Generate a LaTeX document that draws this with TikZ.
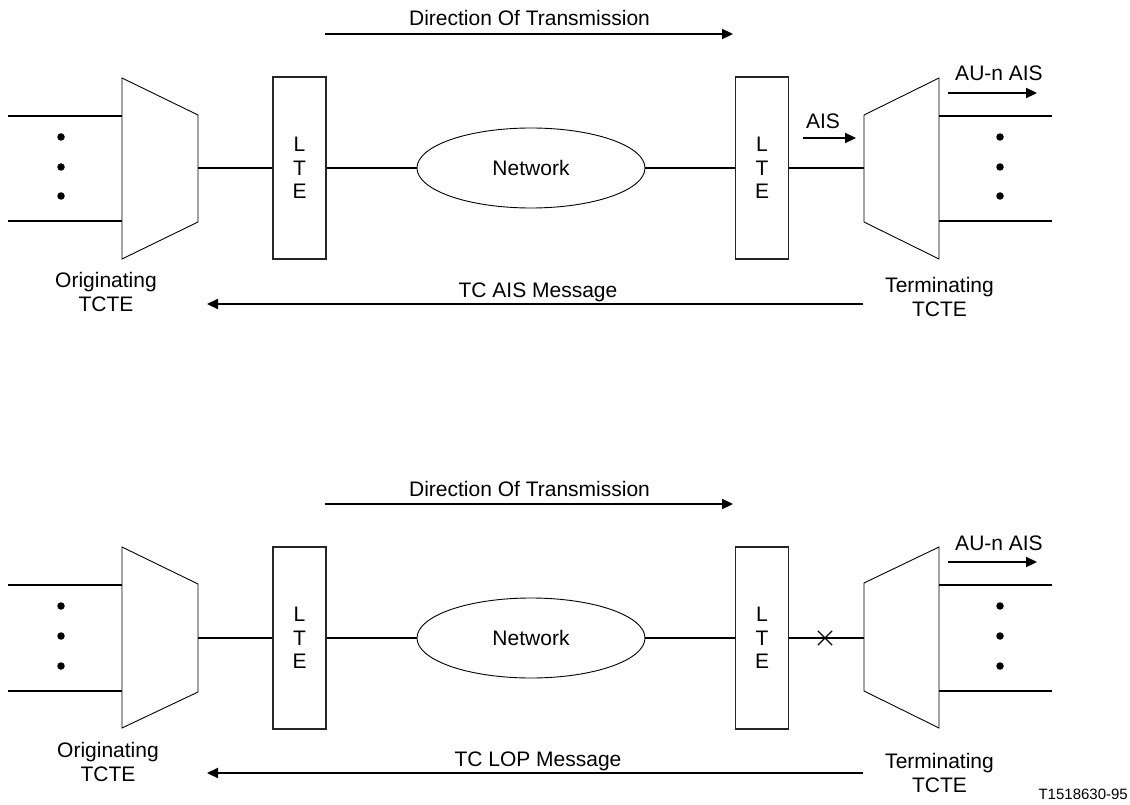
\documentclass[tikz,border=0pt]{standalone}
\usepackage{fontspec}
\setmainfont{Liberation Sans}
\usetikzlibrary{arrows.meta,shapes.geometric,shapes.misc}
\newcommand\dfont{\fontsize{21}{24}\selectfont}
\begin{document}
\begin{tikzpicture}[x=1pt,y=-1pt,
  txt/.style={font=\dfont, inner sep=0pt},
  mtxt/.style={font=\dfont, inner sep=0pt, align=center, anchor=north},
  ltebox/.style={draw=black!85, line width=1.1pt, minimum width=53pt, minimum height=182pt, inner sep=0pt, align=center, font=\fontsize{21}{23.5}\selectfont},
  net/.style={ellipse, draw, line width=0.9pt, minimum width=228pt, minimum height=80pt, inner sep=0pt, font=\dfont},
  wire/.style={line width=1.8pt},
  outline/.style={line width=0.9pt, line join=miter},
  arr/.style={line width=2.2pt, -{Triangle[length=11pt,width=10pt]}},
  dot/.style={circle, fill=black, inner sep=0pt, minimum size=7.5pt},
  xmark/.style={cross out, draw, line width=1.2pt, minimum size=13pt, inner sep=0pt}
]
\useasboundingbox (0,0) rectangle (1130,805);

% ================= TOP DIAGRAM =================
\begin{scope}
  \node[txt, anchor=base] (dir1) at (529.5,26) {Direction Of Transmission};
  \coordinate (d1s) at (325,34);
  \coordinate (d1e) at (733,34);
  \draw[arr] (d1s) -- (d1e);

  % originating TCTE
  \draw[outline] (122,78) -- (198,115) -- (198,222) -- (122,259) -- cycle;
  \coordinate (o1out) at (198,168);
  \coordinate (o1a) at (122,116);
  \coordinate (o1b) at (122,221);
  \coordinate (l1a) at (8,116);
  \coordinate (l1b) at (8,221);
  \draw[wire] (l1a) -- (o1a);
  \draw[wire] (l1b) -- (o1b);
  \node[dot] (od1a) at (61,137) {};
  \node[dot] (od1b) at (61,167) {};
  \node[dot] (od1c) at (61,196) {};
  \node[mtxt] (orig1) at (106,272) {Originating\\TCTE};

  \node[ltebox] (lteA1) at (299.5,168) {L\\T\\E};
  \node[net] (net1) at (531,168) {Network};
  \node[ltebox] (lteB1) at (762,168) {L\\T\\E};

  % terminating TCTE
  \draw[outline] (864,115) -- (939,78) -- (939,259) -- (864,222) -- cycle;
  \coordinate (t1in) at (864,168);
  \coordinate (t1a) at (939,116);
  \coordinate (t1b) at (939,221);
  \coordinate (r1a) at (1052,116);
  \coordinate (r1b) at (1052,221);
  \draw[wire] (t1a) -- (r1a);
  \draw[wire] (t1b) -- (r1b);
  \node[dot] (td1a) at (1000,137) {};
  \node[dot] (td1b) at (1000,167) {};
  \node[dot] (td1c) at (1000,196) {};
  \node[mtxt] (term1) at (939.5,277) {Terminating\\TCTE};

  \draw[wire] (o1out) -- (lteA1.west);
  \draw[wire] (lteA1.east) -- (net1.west);
  \draw[wire] (net1.east) -- (lteB1.west);
  \draw[wire] (lteB1.east) -- (t1in);

  \node[txt, anchor=base] (ais1) at (823,129) {AIS};
  \coordinate (a1s) at (803,138);
  \coordinate (a1e) at (856,138);
  \draw[arr] (a1s) -- (a1e);

  \node[txt, anchor=base] (au1) at (999,81) {AU-n AIS};
  \coordinate (u1s) at (948,93);
  \coordinate (u1e) at (1037,93);
  \draw[arr] (u1s) -- (u1e);

  \node[txt, anchor=base] (msg1) at (538,297) {TC AIS Message};
  \coordinate (m1s) at (863,304);
  \coordinate (m1e) at (207,304);
  \draw[arr] (m1s) -- (m1e);
\end{scope}

% ================= BOTTOM DIAGRAM =================
\begin{scope}[shift={(0,470)}]
  \node[txt, anchor=base] (dir2) at (529.5,26) {Direction Of Transmission};
  \coordinate (d2s) at (325,34);
  \coordinate (d2e) at (733,34);
  \draw[arr] (d2s) -- (d2e);

  \draw[outline] (122,77) -- (198,114) -- (198,222) -- (122,258) -- cycle;
  \coordinate (o2out) at (198,168);
  \coordinate (o2a) at (122,115);
  \coordinate (o2b) at (122,221);
  \coordinate (l2a) at (8,115);
  \coordinate (l2b) at (8,221);
  \draw[wire] (l2a) -- (o2a);
  \draw[wire] (l2b) -- (o2b);
  \node[dot] (od2a) at (61,136) {};
  \node[dot] (od2b) at (61,166) {};
  \node[dot] (od2c) at (61,196) {};
  \node[mtxt] (orig2) at (108,272) {Originating\\TCTE};

  \node[ltebox] (lteA2) at (299.5,168) {L\\T\\E};
  \node[net] (net2) at (531,168) {Network};
  \node[ltebox] (lteB2) at (762,168) {L\\T\\E};

  \draw[outline] (864,113) -- (939,77) -- (939,258) -- (864,221) -- cycle;
  \coordinate (t2in) at (864,168);
  \coordinate (t2a) at (939,115);
  \coordinate (t2b) at (939,221);
  \coordinate (r2a) at (1052,115);
  \coordinate (r2b) at (1052,221);
  \draw[wire] (t2a) -- (r2a);
  \draw[wire] (t2b) -- (r2b);
  \node[dot] (td2a) at (1000,136) {};
  \node[dot] (td2b) at (1000,166) {};
  \node[dot] (td2c) at (1000,196) {};
  \node[mtxt] (term2) at (939.5,283) {Terminating\\TCTE};

  \draw[wire] (o2out) -- (lteA2.west);
  \draw[wire] (lteA2.east) -- (net2.west);
  \draw[wire] (net2.east) -- (lteB2.west);
  \draw[wire] (lteB2.east) -- (t2in);
  \node[xmark] (brk2) at (825,168) {};

  \node[txt, anchor=base] (au2) at (999,80) {AU-n AIS};
  \coordinate (u2s) at (948,92);
  \coordinate (u2e) at (1037,92);
  \draw[arr] (u2s) -- (u2e);

  \node[txt, anchor=base] (msg2) at (538,296) {TC LOP Message};
  \coordinate (m2s) at (863,303);
  \coordinate (m2e) at (207,303);
  \draw[arr] (m2s) -- (m2e);
\end{scope}

\node[font=\fontsize{15}{18}\selectfont, inner sep=0pt, anchor=base east] (fig) at (1128,799) {T1518630-95};
\end{tikzpicture}
\end{document}
